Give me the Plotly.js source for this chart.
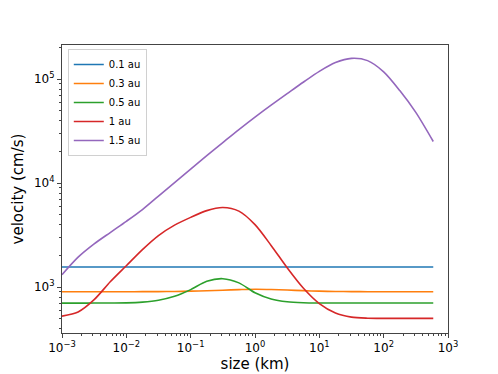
<!DOCTYPE html>
<html>
<head>
<meta charset="utf-8">
<script src="https://cdn.plot.ly/plotly-3.0.1.min.js"></script>
<style>
  body { margin: 0; background: white; }
  #chart { width: 498px; height: 374px; }
</style>
</head>
<body>
<div id="chart"></div>
<script>
// values: size in km (shared), velocity in cm/s
const size_km = [0.001, 0.00178, 0.00316, 0.00562, 0.01, 0.0178, 0.0316, 0.0562,
                 0.1, 0.178, 0.316, 0.562, 1, 1.78, 3.16, 5.62,
                 10, 17.8, 31.6, 56.2, 100, 178, 316, 590]

const v_01 = [1556, 1556, 1556, 1556, 1556, 1556, 1556, 1556,
              1556, 1556, 1556, 1556, 1556, 1556, 1556, 1556,
              1556, 1556, 1556, 1556, 1556, 1556, 1556, 1556]

const v_03 = [900, 900, 900, 900, 901, 902, 903, 906,
              912, 921, 932, 943, 952, 947, 935, 922,
              912, 906, 903, 901, 900, 900, 900, 900]

const v_05 = [700, 700, 701, 702, 704, 716, 746, 813,
              944, 1135, 1202, 1096, 881, 767, 721, 706,
              702, 701, 701, 701, 701, 701, 701, 701]

const v_1 = [525, 575, 755, 1122, 1603, 2291, 3126, 3936,
             4677, 5433, 5821, 5370, 3981, 2512, 1531, 977,
             692, 562, 513, 501, 499, 499, 499, 499]

const v_15 = [1312, 1936, 2600, 3342, 4285, 5559, 7499, 10120,
              13650, 18410, 24550, 32730, 43150, 56230, 72440, 93330,
              118900, 144500, 158500, 150700, 117500, 77620, 47860, 25120]

const labels = ['0.1 au', '0.3 au', '0.5 au', '1 au', '1.5 au']
const colors = ['#1f77b4', '#ff7f0e', '#2ca02c', '#d62728', '#9467bd']
const vs = [v_01, v_03, v_05, v_1, v_15]

const x_major = [-3, -2, -1, 0, 1, 2, 3]
const y_major = [3, 4, 5]

function minor_ticks(lo, hi) {
    let out = []
    for (let e = lo; e <= hi; e++)
        for (let m = 2; m <= 9; m++) out.push(m * Math.pow(10, e))
    return out
}

function pow_label(e) {
    return '10<sup>' + (e < 0 ? '\u2212' + (-e) : e) + '</sup>'
}

let data = []
for (let i = 0; i < labels.length; i++) {
    data.push({
        x: size_km,
        y: vs[i],
        type: 'scatter',
        mode: 'lines',
        name: labels[i],
        line: { color: colors[i], width: 1.6, shape: 'spline', smoothing: 0.8 }
    })
}

const axis_common = {
    type: 'log',
    showgrid: false,
    zeroline: false,
    showline: true,
    mirror: true,
    linecolor: '#444',
    linewidth: 1,
    ticks: 'outside',
    ticklen: 4,
    tickwidth: 1,
    tickcolor: '#444',
    tickfont: { size: 12, color: 'black' },
    tickmode: 'array'
}

let layout = {
    width: 498,
    height: 374,
    margin: { l: 62, r: 50, t: 45, b: 41 },
    paper_bgcolor: 'white',
    plot_bgcolor: 'white',
    font: { family: 'DejaVu Sans', color: 'black' },
    showlegend: true,
    legend: {
        x: 0.015, y: 0.986, xanchor: 'left', yanchor: 'top',
        bgcolor: 'white', bordercolor: '#d0d0d0', borderwidth: 1,
        font: { size: 10 }
    },
    xaxis: Object.assign({}, axis_common, {
        range: [-3, 3],
        tickvals: x_major.map(e => Math.pow(10, e)),
        ticktext: x_major.map(pow_label),
        minor: { tickvals: minor_ticks(-3, 2), ticks: 'outside', ticklen: 2.2, tickcolor: '#444', showgrid: false },
        title: { text: 'size (km)', font: { size: 15 }, standoff: 2 }
    }),
    yaxis: Object.assign({}, axis_common, {
        range: [Math.log10(361), Math.log10(213000)],
        tickvals: y_major.map(e => Math.pow(10, e)),
        ticktext: y_major.map(pow_label),
        minor: { tickvals: minor_ticks(2, 5), ticks: 'outside', ticklen: 2.2, tickcolor: '#444', showgrid: false },
        title: { text: 'velocity (cm/s)', font: { size: 15 }, standoff: 6 }
    })
}

Plotly.newPlot('chart', data, layout, { displayModeBar: false, staticPlot: true })
</script>
</body>
</html>
